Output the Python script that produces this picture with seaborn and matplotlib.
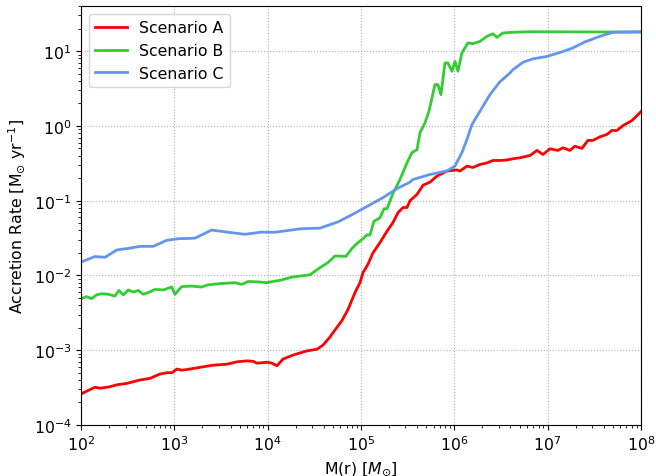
import numpy as np
import pandas as pd
import seaborn as sns
import matplotlib
matplotlib.use('Agg')
import matplotlib.pyplot as plt

# Scenario A (red)
mass_a = [100, 141, 160, 205, 243, 311, 429, 549, 702, 834, 944, 1068, 1208, 1472, 1884,
          2594, 3668, 4693, 6009, 6969, 7691, 9840, 11120, 12590, 14590, 18700, 26370,
          33780, 39190, 46560, 48870, 62650, 72620, 86290, 97550, 105100, 118800, 134400,
          159800, 190000, 220200, 249300, 282000, 311200, 335200, 398300, 461800, 548500,
          651800, 835100, 1.069e6, 1.150e6, 1.367e6, 1.584e6, 1.884e6, 2.239e6, 2.596e6,
          3.084e6, 3.667e6, 4.256e6, 5.058e6, 6.476e6, 7.691e6, 8.913e6, 1.059e7, 1.291e7,
          1.460e7, 1.734e7, 1.963e7, 2.333e7, 2.705e7, 3.062e7, 3.638e7, 4.325e7, 4.887e7,
          5.534e7, 6.412e7, 8.015e7, 1e8]
rate_a = [2.6e-4, 3.2e-4, 3.1e-4, 3.25e-4, 3.45e-4, 3.6e-4, 4.0e-4, 4.2e-4, 4.8e-4, 5.0e-4,
          5.0e-4, 5.6e-4, 5.4e-4, 5.6e-4, 5.9e-4, 6.3e-4, 6.5e-4, 7.0e-4, 7.2e-4, 7.1e-4,
          6.7e-4, 6.9e-4, 6.7e-4, 6.2e-4, 7.6e-4, 8.6e-4, 9.8e-4, 1.03e-3, 1.17e-3, 1.5e-3,
          1.64e-3, 2.5e-3, 3.5e-3, 5.9e-3, 8.0e-3, 1.09e-2, 1.41e-2, 2.0e-2, 2.75e-2, 3.9e-2,
          5.1e-2, 6.9e-2, 8.1e-2, 8.1e-2, 0.10, 0.121, 0.161, 0.177, 0.213, 0.249, 0.258,
          0.249, 0.29, 0.278, 0.305, 0.32, 0.345, 0.345, 0.35, 0.364, 0.375, 0.402, 0.47,
          0.415, 0.494, 0.47, 0.51, 0.47, 0.536, 0.5, 0.64, 0.64, 0.715, 0.77, 0.87, 0.87,
          1.01, 1.18, 1.55]

# Scenario B (green)
mass_b = [100, 115, 130, 147, 167, 196, 231, 255, 284, 321, 363, 411, 465, 526, 621, 762,
          937, 1016, 1200, 1535, 1964, 2311, 3218, 4467, 5268, 6207, 7945, 9772, 11990,
          13560, 18230, 28430, 36380, 44350, 52650, 69080, 80110, 92930, 105100, 115900,
          124800, 137800, 159800, 176400, 190000, 220200, 261800, 311200, 351800, 398300,
          428900, 485200, 535500, 620800, 668300, 719600, 794500, 855900, 944000, 1.016e6,
          1.095e6, 1.208e6, 1.401e6, 1.584e6, 1.884e6, 2.239e6, 2.596e6, 2.865e6, 3.323e6,
          4.256e6, 6.476e6, 1e8]
rate_b = [4.9e-3, 5.2e-3, 4.9e-3, 5.5e-3, 5.7e-3, 5.6e-3, 5.3e-3, 6.3e-3, 5.5e-3, 6.4e-3,
          6.0e-3, 6.3e-3, 5.6e-3, 5.9e-3, 6.5e-3, 6.4e-3, 7.0e-3, 5.6e-3, 7.1e-3, 7.2e-3,
          7.0e-3, 7.5e-3, 7.8e-3, 8.0e-3, 7.6e-3, 8.3e-3, 8.2e-3, 8.0e-3, 8.4e-3, 8.6e-3,
          9.5e-3, 1.02e-2, 1.27e-2, 1.49e-2, 1.82e-2, 1.8e-2, 2.3e-2, 2.75e-2, 3.1e-2, 3.5e-2,
          3.45e-2, 5.3e-2, 5.9e-2, 7.8e-2, 7.8e-2, 0.125, 0.192, 0.32, 0.44, 0.48, 0.81, 1.10,
          1.57, 3.57, 3.57, 2.62, 6.95, 6.95, 5.38, 7.3, 5.4, 9.5, 12.9, 12.6, 13.5, 15.8,
          17.1, 15.3, 17.5, 17.9, 18.2, 18.0]

# Scenario C (blue)
mass_c = [100, 141, 181, 241, 321, 429, 595, 828, 1103, 1665, 2512, 3787, 5715, 8639, 11990,
          22200, 36380, 56730, 82100, 118800, 172200, 243000, 335200, 360700, 548500,
          835100, 1.016e6, 1.208e6, 1.367e6, 1.545e6, 1.884e6, 2.411e6, 3.084e6, 3.951e6,
          4.256e6, 5.447e6, 6.972e6, 9.84e6, 1.356e7, 1.823e7, 2.512e7, 3.638e7, 5.012e7,
          1e8]
rate_c = [1.51e-2, 1.79e-2, 1.75e-2, 2.19e-2, 2.3e-2, 2.45e-2, 2.45e-2, 2.95e-2, 3.1e-2,
          3.15e-2, 4.05e-2, 3.78e-2, 3.55e-2, 3.8e-2, 3.78e-2, 4.2e-2, 4.3e-2, 5.2e-2, 6.6e-2,
          8.5e-2, 0.110, 0.145, 0.177, 0.192, 0.224, 0.25, 0.29, 0.44, 0.66, 1.04, 1.57, 2.62,
          3.9, 5.1, 5.66, 7.1, 7.9, 8.5, 9.6, 10.9, 13.3, 15.8, 17.9, 18.2]

names = ['Scenario A', 'Scenario B', 'Scenario C']
colors = ['red', 'limegreen', 'cornflowerblue']

data = pd.concat([
    pd.DataFrame({'mass': mass_a, 'rate': rate_a, 'scenario': names[0]}),
    pd.DataFrame({'mass': mass_b, 'rate': rate_b, 'scenario': names[1]}),
    pd.DataFrame({'mass': mass_c, 'rate': rate_c, 'scenario': names[2]}),
], ignore_index=True)

plt.rcParams['font.family'] = ['DejaVu Sans']
plt.rcParams['font.size'] = 11.3

fig, ax = plt.subplots(figsize=(6.56, 4.77), dpi=100)
fig.subplots_adjust(left=0.1235, right=0.977, bottom=0.107, top=0.985)

sns.lineplot(data=data, x='mass', y='rate', hue='scenario', palette=dict(zip(names, colors)),
             linewidth=2, estimator=None, sort=False, ax=ax)

ax.set_xscale('log')
ax.set_yscale('log')
ax.set_xlim(1e2, 1e8)
ax.set_ylim(1e-4, 40)
ax.grid(True, which='major', linestyle=':', color='#b0b0b0', linewidth=0.8)
ax.tick_params(which='both', direction='out', labelsize=11.3)
ax.set_xlabel(r'M(r) [$M_{\odot}$]', fontsize=11.3)
ax.set_ylabel(r'Accretion Rate [M$_{\odot}$ yr$^{-1}$]', fontsize=11.3)
ax.legend(title=None, loc='upper left', fontsize=11.3, frameon=True)

fig.savefig('out.png', dpi=100)
